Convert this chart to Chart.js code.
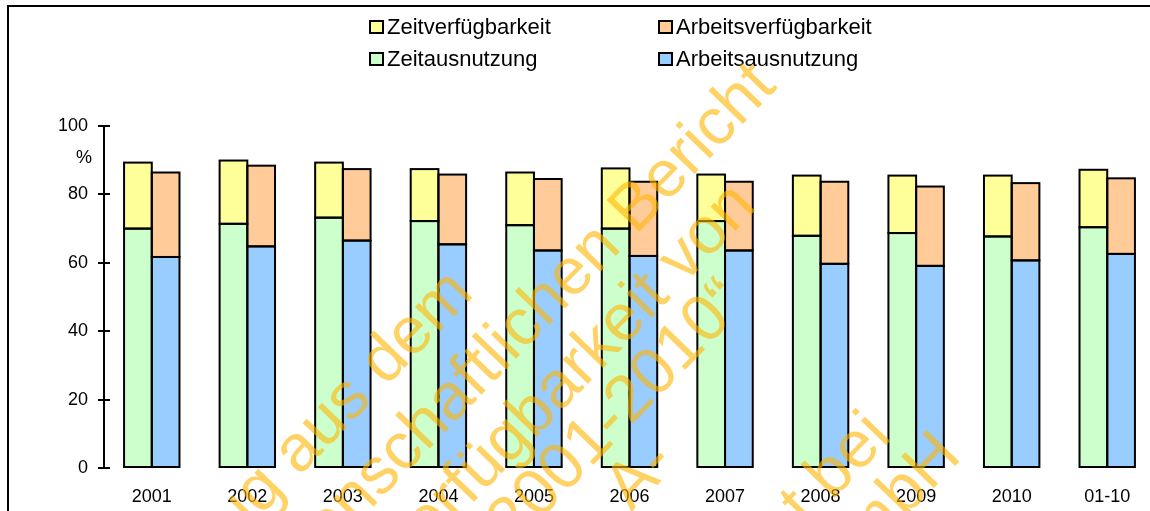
<!DOCTYPE html>
<html>
<head>
<meta charset="utf-8">
<script src="https://cdn.jsdelivr.net/npm/chart.js@4.4.1/dist/chart.umd.min.js"></script>
<style>
    html, body { margin: 0; padding: 0; background: #fff; overflow: hidden; }
    #wrap { position: relative; width: 1150px; height: 511px; overflow: hidden; }
    #frame { position: absolute; left: 7px; top: 5px; width: 1300px; height: 700px; border: 2px solid #000; box-sizing: border-box; pointer-events: none; }
    #chart { position: absolute; left: 0; top: 0; }
</style>
</head>
<body>
<div id="wrap">
    <canvas id="chart" width="1155" height="511"></canvas>
    <div id="frame"></div>
</div>
<script>
// Werte in %
const years = ['2001', '2002', '2003', '2004', '2005', '2006', '2007', '2008', '2009', '2010', '01-10'];
const zeitVerfuegbarkeit = [89.3, 89.9, 89.3, 87.4, 86.4, 87.6, 85.8, 85.5, 85.5, 85.5, 87.2];
const arbeitsVerfuegbarkeit = [86.4, 88.4, 87.4, 85.8, 84.5, 83.7, 83.7, 83.7, 82.3, 83.3, 84.7];
const zeitAusnutzung = [70.0, 71.4, 73.2, 72.2, 71.0, 70.0, 72.2, 67.9, 68.7, 67.7, 70.4];
const arbeitsAusnutzung = [61.7, 64.8, 66.5, 65.4, 63.6, 62.0, 63.6, 59.7, 59.1, 60.7, 62.6];
const yTicks = [0, 20, 40, 60, 80, 100];

const FONT = '"Liberation Sans", Arial, sans-serif';

// oberes Segment = Verfügbarkeit minus Ausnutzung
const topPart = (total, base) => total.map((v, i) => +(v - base[i]).toFixed(1));

const datasets = [
    { label: 'Zeitausnutzung', data: zeitAusnutzung, stack: 'zeit', backgroundColor: '#CCFFCC' },
    { label: 'Arbeitsausnutzung', data: arbeitsAusnutzung, stack: 'arbeit', backgroundColor: '#99CCFF' },
    { label: 'Zeitverfügbarkeit', data: topPart(zeitVerfuegbarkeit, zeitAusnutzung), stack: 'zeit', backgroundColor: '#FFFF99' },
    { label: 'Arbeitsverfügbarkeit', data: topPart(arbeitsVerfuegbarkeit, arbeitsAusnutzung), stack: 'arbeit', backgroundColor: '#FFCC99' }
];
datasets.forEach(ds => {
    ds.borderWidth = 0;
    ds.categoryPercentage = 0.58;
    ds.barPercentage = 1.0;
});

// schwarze Rahmen um jedes Segment (gemeinsame Kanten nur einfach)
const barOutlinePlugin = {
    id: 'barOutline',
    afterDatasetsDraw(chart) {
        const ctx = chart.ctx;
        ctx.save();
        ctx.strokeStyle = '#000';
        ctx.lineWidth = 2;
        chart.data.datasets.forEach((ds, i) => {
            chart.getDatasetMeta(i).data.forEach(bar => {
                const p = bar.getProps(['x', 'y', 'base', 'width'], true);
                const top = Math.min(p.y, p.base);
                const h = Math.abs(p.base - p.y);
                ctx.strokeRect(p.x - p.width / 2, top, p.width, h);
            });
        });
        ctx.restore();
    }
};

// Legende: 2 Spalten, Reihenfolge wie im Original
const legendPlugin = {
    id: 'gridLegend',
    afterDraw(chart) {
        const ctx = chart.ctx;
        const order = [2, 3, 0, 1];
        const cols = [370, 659];
        const rows = [27, 59];
        ctx.save();
        ctx.font = '22px ' + FONT;
        ctx.textBaseline = 'middle';
        ctx.textAlign = 'left';
        order.forEach((dsIndex, i) => {
            const ds = chart.data.datasets[dsIndex];
            const x = cols[i % 2];
            const y = rows[Math.floor(i / 2)];
            ctx.fillStyle = ds.backgroundColor;
            ctx.fillRect(x, y - 6, 13, 12);
            ctx.strokeStyle = '#000';
            ctx.lineWidth = 2;
            ctx.strokeRect(x, y - 6, 13, 12);
            ctx.fillStyle = '#000';
            ctx.fillText(ds.label, x + 17, y + 1);
        });
        ctx.restore();
    }
};

// Tick-Striche nach innen + Einheit
const axisPlugin = {
    id: 'axisExtras',
    afterDraw(chart) {
        const ctx = chart.ctx;
        const y = chart.scales.y;
        ctx.save();
        ctx.strokeStyle = '#000';
        ctx.lineWidth = 2;
        yTicks.forEach(v => {
            const py = Math.round(y.getPixelForValue(v));
            ctx.beginPath();
            ctx.moveTo(chart.chartArea.left, py);
            ctx.lineTo(chart.chartArea.left + 6, py);
            ctx.stroke();
        });
        ctx.fillStyle = '#000';
        ctx.font = '18px ' + FONT;
        ctx.textAlign = 'right';
        ctx.textBaseline = 'middle';
        ctx.fillText('%', 92, y.getPixelForValue(90.6));
        ctx.restore();
    }
};

// Wasserzeichen
const watermarkPlugin = {
    id: 'watermark',
    afterDraw(chart) {
        const ctx = chart.ctx;
        const lines = [
            ['Auszug aus dem', 462, 282],
            ['wissenschaftlichen Bericht', 765, 75],
            ['„Verfügbarkeit von', 745, 195],
            ['2001-2010“', 735, 292],
            ['A-', 664, 452],
            ['t bei', 880, 425],
            ['GmbH', 950, 445]
        ];
        ctx.save();
        ctx.fillStyle = 'rgba(255, 180, 0, 0.6)';
        ctx.font = '66px ' + FONT;
        ctx.textAlign = 'right';
        ctx.textBaseline = 'middle';
        lines.forEach(([text, x, y]) => {
            ctx.save();
            ctx.translate(x, y);
            ctx.rotate(-46 * Math.PI / 180);
            ctx.fillText(text, 0, 0);
            ctx.restore();
        });
        ctx.restore();
    }
};

new Chart(document.getElementById('chart'), {
    type: 'bar',
    data: { labels: years, datasets },
    options: {
        responsive: false,
        animation: false,
        layout: { padding: { top: 126, right: 0, bottom: 0, left: 0 } },
        plugins: {
            legend: { display: false },
            tooltip: { enabled: false }
        },
        scales: {
            x: {
                stacked: true,
                grid: { display: false },
                border: { display: false },
                ticks: { color: '#000', font: { family: FONT, size: 18 }, padding: 10, maxRotation: 0 },
                afterFit: scale => { scale.height = 43; }
            },
            y: {
                stacked: true,
                min: 0,
                max: 100,
                afterBuildTicks: scale => { scale.ticks = yTicks.map(v => ({ value: v })); },
                grid: { drawOnChartArea: false, tickLength: 6, color: '#000', lineWidth: 2 },
                border: { color: '#000', width: 2 },
                ticks: { color: '#000', font: { family: FONT, size: 18 }, padding: 10 },
                afterFit: scale => { scale.width = 104; }
            }
        }
    },
    plugins: [barOutlinePlugin, legendPlugin, axisPlugin, watermarkPlugin]
});
</script>
</body>
</html>
